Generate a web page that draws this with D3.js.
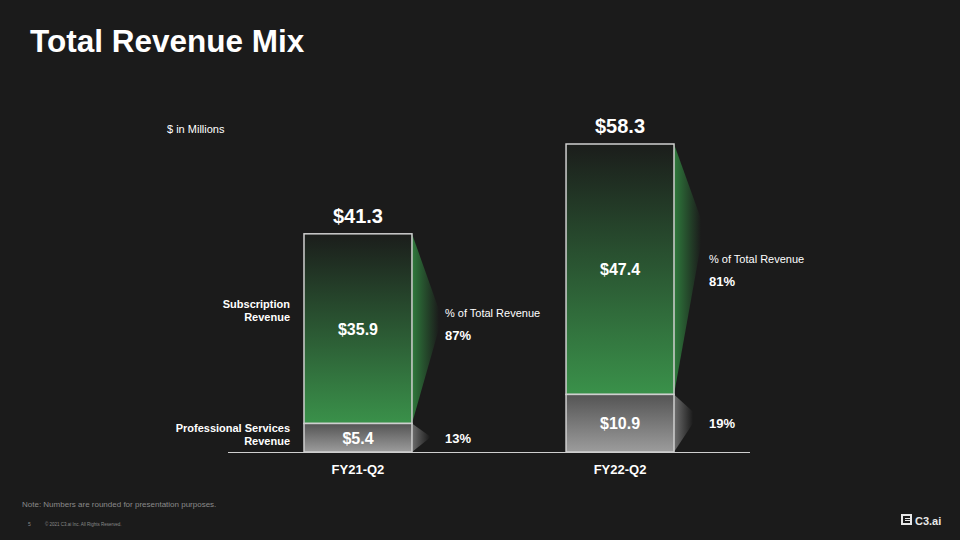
<!DOCTYPE html>
<html><head><meta charset="utf-8">
<script src="https://cdn.jsdelivr.net/npm/d3@7"></script>
<style>html,body{margin:0;padding:0;background:#1b1b1b;}svg{display:block;font-family:"Liberation Sans",Arial,sans-serif;}</style>
</head><body>
<svg id="c" width="960" height="540"></svg>
<script>
const categories = ["FY21-Q2", "FY22-Q2"];
const subscription = [35.9, 47.4];
const professional = [5.4, 10.9];
const totals = [41.3, 58.3];
const subPct = ["87%", "81%"];
const proPct = ["13%", "19%"];

const svg = d3.select("#c");
svg.append("rect").attr("width",960).attr("height",540).attr("fill","#1b1b1b");
const defs = svg.append("defs");
const gG = defs.append("linearGradient").attr("id","gGreen").attr("x1",0).attr("y1",0).attr("x2",0).attr("y2",1);
gG.append("stop").attr("offset","0%").attr("stop-color","#1b1d1b");
gG.append("stop").attr("offset","100%").attr("stop-color","#3a914a");
const gY = defs.append("linearGradient").attr("id","gGrey").attr("x1",0).attr("y1",0).attr("x2",0).attr("y2",1);
gY.append("stop").attr("offset","0%").attr("stop-color","#545454");
gY.append("stop").attr("offset","100%").attr("stop-color","#9c9c9c");
const wG = defs.append("linearGradient").attr("id","wGreen").attr("x1",0).attr("y1",0).attr("x2",1).attr("y2",0);
wG.append("stop").attr("offset","0%").attr("stop-color","#2f7a3c");
wG.append("stop").attr("offset","100%").attr("stop-color","#1b1b1b");
const wY = defs.append("linearGradient").attr("id","wGrey").attr("x1",0).attr("y1",0).attr("x2",1).attr("y2",0);
wY.append("stop").attr("offset","0%").attr("stop-color","#6e6e6e");
wY.append("stop").attr("offset","100%").attr("stop-color","#1b1b1b");

const x = d3.scaleBand().domain(categories).range([228, 750]).paddingInner(0.588).paddingOuter(0.29);
const y = d3.scaleLinear().domain([0, 58.3]).range([452, 144]);
const bw = x.bandwidth();

svg.append("text").attr("x",30).attr("y",52).attr("fill","#fff").attr("font-size",31.5).attr("font-weight","bold").text("Total Revenue Mix");
svg.append("text").attr("x",167).attr("y",133).attr("fill","#fff").attr("font-size",11).text("$ in Millions");

const apexSub = [[0.40,0.50],[0.30,0.40]];
const apexPro = [[0.45,0.5],[0.3,0.5]];
const wSub = [27, 27];
const wPro = [18, 19];
const labelOff = [33, 35];

categories.forEach((c,i)=>{
  const x0 = x(c), x1 = x0 + bw, cx = x0 + bw/2;
  const yTop = y(totals[i]), yMid = y(professional[i]), yB = y(0);
  const hSub = yMid - yTop, hPro = yB - yMid;
  svg.append("path").attr("fill","url(#wGreen)")
    .attr("d",`M${x1},${yTop} L${x1+wSub[i]},${yTop+hSub*apexSub[i][0]} L${x1+wSub[i]},${yTop+hSub*apexSub[i][1]} L${x1},${yMid} Z`);
  svg.append("path").attr("fill","url(#wGrey)")
    .attr("d",`M${x1},${yMid} L${x1+wPro[i]},${yMid+hPro*apexPro[i][0]} L${x1+wPro[i]},${yMid+hPro*apexPro[i][1]} L${x1},${yB} Z`);
  svg.append("rect").attr("x",x0).attr("y",yTop).attr("width",bw).attr("height",yMid-yTop)
    .attr("fill","url(#gGreen)").attr("stroke","#cfcfcf").attr("stroke-width",1.5);
  svg.append("rect").attr("x",x0).attr("y",yMid).attr("width",bw).attr("height",yB-yMid)
    .attr("fill","url(#gGrey)").attr("stroke","#cfcfcf").attr("stroke-width",1.5);
  svg.append("text").attr("x",cx).attr("y",yTop-11).attr("text-anchor","middle").attr("fill","#fff")
    .attr("font-size",20).attr("font-weight","bold").text("$"+totals[i].toFixed(1));
  svg.append("text").attr("x",cx).attr("y",(yTop+yMid)/2+6).attr("text-anchor","middle").attr("fill","#fff")
    .attr("font-size",16).attr("font-weight","bold").text("$"+subscription[i].toFixed(1));
  svg.append("text").attr("x",cx).attr("y",(yMid+yB)/2+6).attr("text-anchor","middle").attr("fill","#fff")
    .attr("font-size",16).attr("font-weight","bold").text("$"+professional[i].toFixed(1));
  const tx = x1 + labelOff[i];
  const py = i===0 ? 317 : 263;
  svg.append("text").attr("x",tx).attr("y",py).attr("fill","#fff").attr("font-size",11).text("% of Total Revenue");
  svg.append("text").attr("x",tx).attr("y",py+23).attr("fill","#fff").attr("font-size",13).attr("font-weight","bold").text(subPct[i]);
  svg.append("text").attr("x",tx).attr("y",yMid+(yB-yMid)/2+5).attr("fill","#fff").attr("font-size",13).attr("font-weight","bold").text(proPct[i]);
  svg.append("text").attr("x",cx).attr("y",474).attr("text-anchor","middle").attr("fill","#fff")
    .attr("font-size",13).attr("font-weight","bold").text(c);
});

svg.append("line").attr("x1",228).attr("x2",750).attr("y1",y(0)+0.5).attr("y2",y(0)+0.5).attr("stroke","#cfcfcf").attr("stroke-width",1.2);

const ll = svg.append("g").attr("fill","#fff").attr("font-size",11).attr("font-weight","bold").attr("text-anchor","end");
ll.append("text").attr("x",290).attr("y",308).text("Subscription");
ll.append("text").attr("x",290).attr("y",321).text("Revenue");
ll.append("text").attr("x",290).attr("y",432).text("Professional Services");
ll.append("text").attr("x",290).attr("y",445).text("Revenue");

svg.append("text").attr("x",22).attr("y",507).attr("fill","#8a8a8a").attr("font-size",8).text("Note: Numbers are rounded for presentation purposes.");
svg.append("text").attr("x",28).attr("y",526).attr("fill","#8a8a8a").attr("font-size",5).text("5");
svg.append("text").attr("x",45).attr("y",526).attr("fill","#8a8a8a").attr("font-size",4.5).text("© 2021 C3.ai Inc. All Rights Reserved.");
const lg = svg.append("g").attr("transform","translate(901,514)");
lg.append("rect").attr("x",0).attr("y",0).attr("width",11).attr("height",11).attr("fill","#e8e8e8");
lg.append("path").attr("d","M2,2 H9 V4 H4 V5 H9 V6 H4 V7 H9 V9 H2 Z").attr("fill","#1b1b1b");
svg.append("text").attr("x",915).attr("y",525).attr("fill","#e8e8e8").attr("font-size",11).attr("font-weight","bold").text("C3.ai");
</script>
</body></html>
